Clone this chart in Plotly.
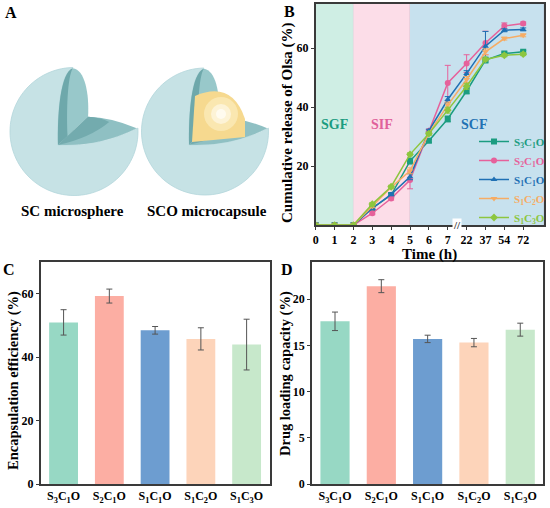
import numpy as np
import plotly.graph_objects as go

W, H = 550, 508
FONT = "Liberation Serif"

# ---------------- data ----------------
times = ["0", "1", "2", "3", "4", "5", "6", "7", "22", "37", "54", "72"]
series_names = ["S<sub>3</sub>C<sub>1</sub>O", "S<sub>2</sub>C<sub>1</sub>O",
                "S<sub>1</sub>C<sub>1</sub>O", "S<sub>1</sub>C<sub>2</sub>O",
                "S<sub>1</sub>C<sub>3</sub>O"]
rel_s3c1o = [0, 0, 0, 5.7, 10.2, 21.7, 28.6, 36.0, 45.5, 56.0, 58.2, 58.8]
rel_s2c1o = [0, 0, 0, 4.0, 9.0, 15.3, 32.0, 48.2, 54.8, 61.8, 67.6, 68.4]
rel_s1c1o = [0, 0, 0, 5.7, 10.4, 16.4, 32.0, 42.6, 51.4, 60.7, 66.1, 66.4]
rel_s1c2o = [0, 0, 0, 6.4, 12.8, 18.4, 31.1, 40.7, 49.4, 58.8, 63.3, 64.4]
rel_s1c3o = [0, 0, 0, 7.1, 13.0, 24.0, 31.0, 39.0, 47.1, 56.2, 57.6, 58.0]
err_s3c1o = [0, 0, 0, 0.5, 0.5, 1.0, 0.5, 1.0, 1.0, 1.0, 0.5, 0.5]
err_s2c1o = [0, 0, 0, 0.5, 0.5, 3.0, 0.5, 6.0, 3.0, 4.0, 1.0, 0.5]
err_s1c1o = [0, 0, 0, 0.5, 0.5, 1.0, 0.5, 1.0, 1.0, 5.0, 0.5, 0.5]
err_s1c2o = [0, 0, 0, 0.5, 0.5, 1.0, 0.5, 1.0, 1.0, 1.0, 0.5, 0.5]
err_s1c3o = [0, 0, 0, 0.5, 0.5, 0.5, 0.5, 1.0, 1.0, 0.5, 0.5, 0.5]

samples = series_names
encap_eff = [51.0, 59.3, 48.5, 45.8, 44.0]
encap_err = [4.0, 2.2, 1.2, 3.5, 8.0]
drug_load = [17.6, 21.4, 15.7, 15.3, 16.7]
drug_err = [1.0, 0.7, 0.4, 0.45, 0.7]

line_colors = ["#1b9c80", "#e6619b", "#1f70b4", "#f6ac64", "#8dc63f"]
markers = ["square", "circle", "triangle-up", "triangle-down", "diamond"]
bar_colors = ["#97d8c4", "#fcaea3", "#6d9dd0", "#fdd4ba", "#c7e8cb"]

fig = go.Figure()

# ---------------- panel B ----------------
xpos = list(range(len(times)))
rels = [rel_s3c1o, rel_s2c1o, rel_s1c1o, rel_s1c2o, rel_s1c3o]
errs = [err_s3c1o, err_s2c1o, err_s1c1o, err_s1c2o, err_s1c3o]
for name, ys, es, c, m in zip(series_names, rels, errs, line_colors, markers):
    fig.add_trace(go.Scatter(
        x=xpos, y=ys, mode="lines+markers",
        name=f"<span style='color:{c}'>{name}</span>",
        line=dict(color=c, width=1.5),
        marker=dict(symbol=m, size=6, color=c),
        error_y=dict(type="data", array=es, color=c, thickness=1, width=3),
        xaxis="x", yaxis="y"))

# ---------------- panel C & D ----------------
fig.add_trace(go.Bar(
    x=samples, y=encap_eff, marker=dict(color=bar_colors, line=dict(width=0)),
    width=0.63, showlegend=False,
    error_y=dict(type="data", array=encap_err, color="#555555", thickness=1, width=3),
    xaxis="x2", yaxis="y2"))
fig.add_trace(go.Bar(
    x=samples, y=drug_load, marker=dict(color=bar_colors, line=dict(width=0)),
    width=0.63, showlegend=False,
    error_y=dict(type="data", array=drug_err, color="#555555", thickness=1, width=3),
    xaxis="x3", yaxis="y3"))

tick_font = dict(family=FONT, size=12, color="black", weight="bold")
def tfont(size, color="black"):
    return dict(family=FONT, size=size, color=color, weight="bold")
axis_common = dict(showline=True, mirror=True, linecolor="#3a3a3a", linewidth=1.5,
                   showgrid=False, zeroline=False, tickfont=tick_font, automargin=False)
ytick = dict(ticks="outside", ticklen=3, tickcolor="#3a3a3a")

fig.update_layout(
    width=W, height=H, margin=dict(l=0, r=0, t=0, b=0, autoexpand=False),
    paper_bgcolor="white", plot_bgcolor="white",
    xaxis=dict(domain=[0.574, 0.989], anchor="y", range=[0, 12.1],
               tickvals=xpos, ticktext=times, **ytick, **axis_common),
    yaxis=dict(domain=[0.557, 0.992], anchor="x", range=[0, 75],
               tickvals=[20, 40, 60], **ytick, **axis_common),
    xaxis2=dict(domain=[0.074, 0.490], anchor="y2", range=[-0.5, 4.5],
                ticks="", **axis_common),
    yaxis2=dict(domain=[0.047, 0.484], anchor="x2", range=[0, 70],
                tickvals=[0, 20, 40, 60], **ytick, **axis_common),
    xaxis3=dict(domain=[0.567, 0.988], anchor="y3", range=[-0.5, 4.5],
                ticks="", **axis_common),
    yaxis3=dict(domain=[0.047, 0.484], anchor="x3", range=[0, 24],
                tickvals=[0, 5, 10, 15, 20], **ytick, **axis_common),
    legend=dict(x=1.0, xanchor="right", y=1 - 127 / H, yanchor="top",
                bgcolor="rgba(0,0,0,0)", font=dict(family=FONT, size=11, weight="bold"),
                tracegroupgap=0, itemwidth=30),
    bargap=0.37,
)

shapes = []
# phase backgrounds
for x0, x1, col in [(0, 2, "#cfeee4"), (2, 5, "#fcdde8"), (5, 12.1, "#c7e1ee")]:
    shapes.append(dict(type="rect", xref="x", yref="y", x0=x0, x1=x1, y0=0, y1=75,
                       fillcolor=col, line=dict(width=0), layer="below"))
    shapes.append(dict(type="line", xref="x", yref="y", x0=x1, x1=x1, y0=0, y1=75,
                       line=dict(color="rgba(150,150,170,0.35)", width=1), layer="below"))

# ---------------- panel A illustration ----------------
def P(x, y):
    return f"{x / W:.5f},{1 - y / H:.5f}"

def sphere_paths(cx, cy, R):
    def L(u, v):
        return P(cx + u * R, cy + v * R)
    T, C, Rt, J = (-0.02, -0.99), (-0.25, 0.21), (0.98, -0.05), (0.22, -0.23)
    thetas = np.radians(np.linspace(-91, -363, 80))
    arc = [L(np.cos(t), np.sin(t)) for t in thetas]
    lc1, lc2 = (-0.21, -0.92), (-0.26, -0.30)
    body = ("M" + " L".join(arc) + f" Q{L(0.395, 0.24)} {L(*C)}"
            f" C{L(*lc2)} {L(*lc1)} {L(*T)} Z")
    vert = (f"M{L(*C)} C{L(*lc2)} {L(*lc1)} {L(*T)}"
            f" C{L(0.17, -0.97)} {L(0.24, -0.60)} {L(*J)} Z")
    strip = (f"M{L(*C)} C{L(*lc2)} {L(*lc1)} {L(*T)}"
             f" C{L(-0.10, -0.85)} {L(-0.12, -0.35)} {L(-0.10, 0.08)} Z")
    horiz = f"M{L(*C)} L{L(*J)} Q{L(0.58, -0.22)} {L(*Rt)} Q{L(0.395, 0.24)} {L(*C)} Z"
    hstrip = f"M{L(*C)} L{L(*J)} Q{L(0.40, -0.22)} {L(0.55, -0.15)} Q{L(0.25, 0.10)} {L(*C)} Z"
    return body, vert, strip, horiz, hstrip

for cx, cy, R in [(74, 131.5, 64), (205, 131.5, 63.5)]:
    body, vert, strip, horiz, hstrip = sphere_paths(cx, cy, R)
    shapes.append(dict(type="path", xref="paper", yref="paper", path=body,
                       fillcolor="#c6e2e5", line=dict(color="#b3d6da", width=0.8)))
    shapes.append(dict(type="path", xref="paper", yref="paper", path=vert,
                       fillcolor="#98c8ca", line=dict(width=0)))
    shapes.append(dict(type="path", xref="paper", yref="paper", path=strip,
                       fillcolor="#6ea8ab", line=dict(width=0)))
    shapes.append(dict(type="path", xref="paper", yref="paper", path=horiz,
                       fillcolor="#8fc0c3", line=dict(width=0)))
    shapes.append(dict(type="path", xref="paper", yref="paper", path=hstrip,
                       fillcolor="#73abae", line=dict(width=0)))

# yellow core of the SCO microcapsule
core = (f"M{P(192, 142)} L{P(195, 96)} Q{P(232, 80)} {P(245, 119)} "
        f"L{P(245, 137)} L{P(192, 142)} Z")
shapes.append(dict(type="path", xref="paper", yref="paper", path=core,
                   fillcolor="#f6d98f", line=dict(width=0)))
for r, col in [(17, "#fae7b0"), (10, "#fdf3d6"), (5, "#fffbef")]:
    shapes.append(dict(type="circle", xref="paper", yref="paper",
                       x0=(221 - r) / W, x1=(221 + r) / W,
                       y0=1 - (114 + r) / H, y1=1 - (114 - r) / H,
                       fillcolor=col, line=dict(width=0)))

fig.update_layout(shapes=shapes)

# ---------------- annotations ----------------
ann = []
ctr = dict(xanchor="center", yanchor="middle")
for txt, px, py in [("A", 11, 13), ("B", 289, 12), ("C", 9, 269), ("D", 287, 269)]:
    ann.append(dict(text=txt, x=px / W, y=1 - py / H, xref="paper", yref="paper",
                    showarrow=False, **ctr, font=tfont(16)))
for txt, px in [("SC microsphere", 72), ("SCO microcapsule", 207)]:
    ann.append(dict(text=txt, x=px / W, y=1 - 211 / H, xref="paper", yref="paper",
                    showarrow=False, **ctr, font=tfont(15)))
# axis titles
for txt, px, py, size, ang in [
        ("Cumulative release of Olsa (%)", 287, 123, 15, -90),
        ("Time (h)", 429, 254, 15, 0),
        ("Encapsulation efficiency (%)", 13, 381, 14.5, -90),
        ("Drug loading capacity (%)", 285, 374, 14.5, -90)]:
    ann.append(dict(text=txt, x=px / W, y=1 - py / H, xref="paper", yref="paper",
                    showarrow=False, textangle=ang, **ctr, font=tfont(size)))
for txt, xv, col in [("SGF", 1, "#1b9c80"), ("SIF", 3.5, "#e0609a"), ("SCF", 8.4, "#2271b3")]:
    ann.append(dict(text=txt, x=xv, y=34, xref="x", yref="y", showarrow=False, **ctr,
                    font=tfont(14, col)))
ann.append(dict(text="//", x=7.5, y=0, xref="x", yref="y", showarrow=False, **ctr,
                bgcolor="white", borderpad=0,
                font=tfont(11, "#3a3a3a")))
fig.update_layout(annotations=ann)

fig.write_html("out.html", config={"displayModeBar": False},
               post_script="document.body.style.margin='0px';")
